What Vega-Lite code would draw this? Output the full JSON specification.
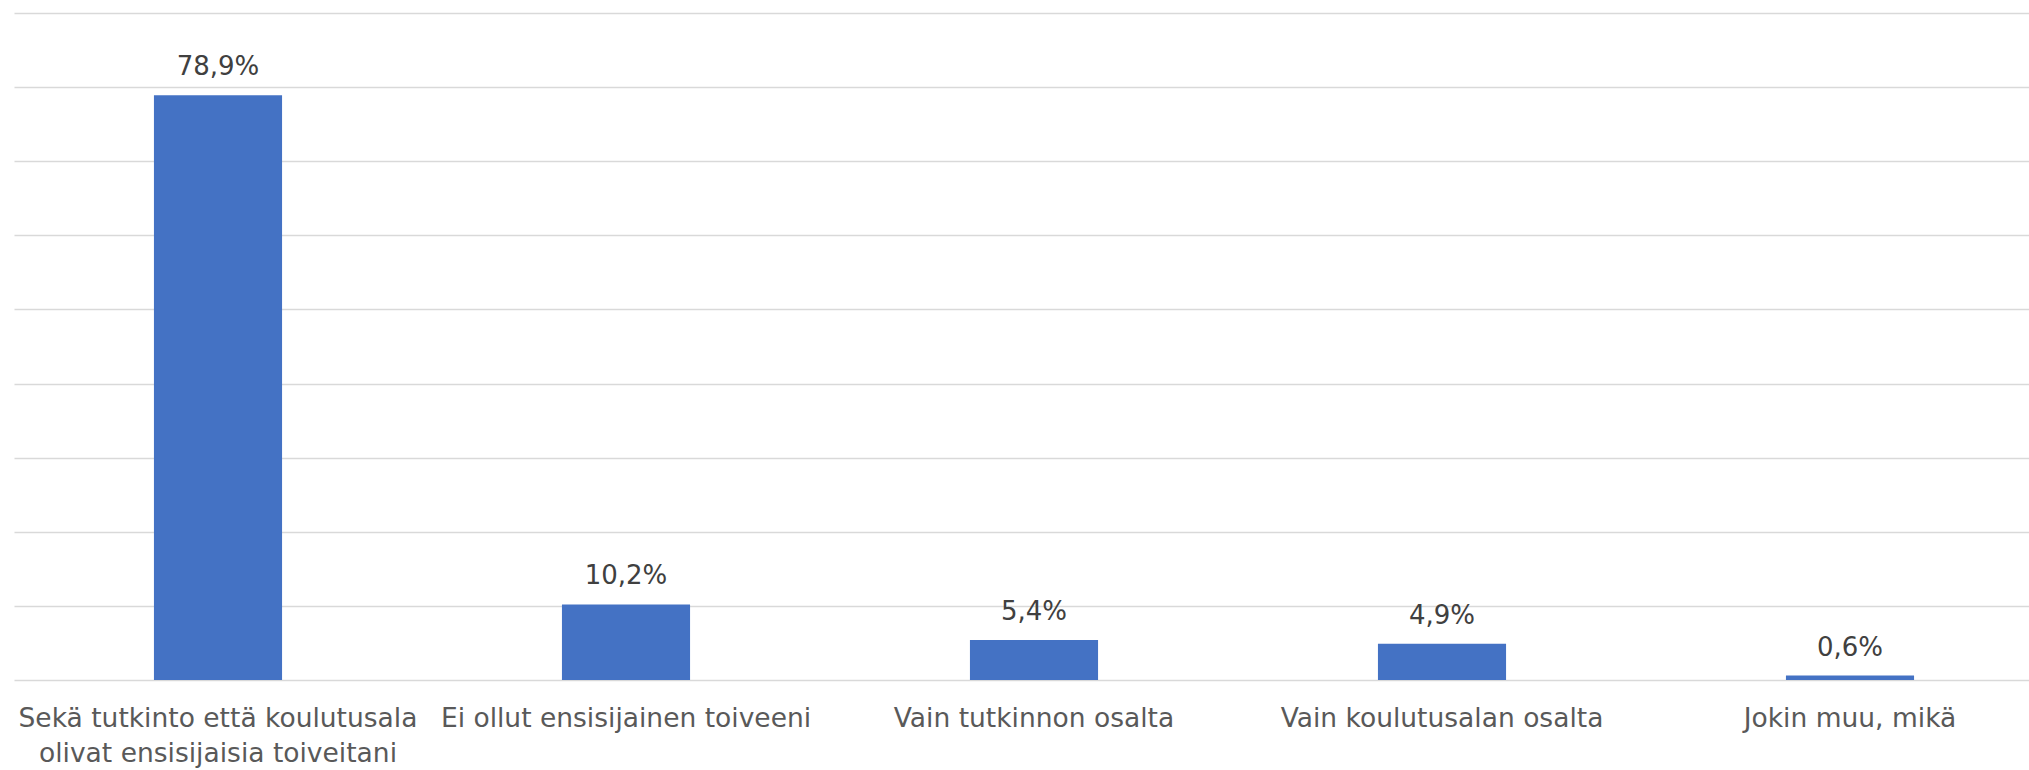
{
  "$schema": "https://vega.github.io/schema/vega-lite/v6.json",
  "width": 2040,
  "height": 667,
  "autosize": {"type": "none"},
  "padding": {"left": 14, "top": 13, "right": 0, "bottom": 90},
  "background": "white",
  "config": {
    "view": {"stroke": null},
    "locale": {"number": {"decimal": ",", "thousands": " ", "grouping": [3], "currency": ["", " €"]}},
    "font": "DejaVu Sans"
  },
  "data": {
    "values": [
      {"vastaus": "Sekä tutkinto että koulutusala olivat ensisijaisia toiveitani", "osuus": 0.789},
      {"vastaus": "Ei ollut ensisijainen toiveeni", "osuus": 0.102},
      {"vastaus": "Vain tutkinnon osalta", "osuus": 0.054},
      {"vastaus": "Vain koulutusalan osalta", "osuus": 0.049},
      {"vastaus": "Jokin muu, mikä", "osuus": 0.006}
    ]
  },
  "encoding": {
    "x": {
      "field": "vastaus",
      "type": "nominal",
      "sort": null,
      "scale": {"paddingInner": 0.686, "paddingOuter": 0.343},
      "axis": {
        "title": null,
        "labelAngle": 0,
        "labelFontSize": 26.5,
        "labelColor": "#595959",
        "labelFont": "DejaVu Sans",
        "labelLineHeight": 35,
        "labelPadding": 25,
        "labelLimit": 600,
        "ticks": false,
        "domain": false,
        "labelExpr": "datum.label == 'Sekä tutkinto että koulutusala olivat ensisijaisia toiveitani' ? ['Sekä tutkinto että koulutusala', 'olivat ensisijaisia toiveitani'] : datum.label"
      }
    },
    "y": {
      "field": "osuus",
      "type": "quantitative",
      "scale": {"domain": [0, 0.9], "nice": false},
      "axis": {
        "title": null,
        "labels": false,
        "ticks": false,
        "domain": false,
        "values": [0, 0.1, 0.2, 0.3, 0.4, 0.5, 0.6, 0.7, 0.8, 0.9],
        "gridColor": "#d9d9d9",
        "gridWidth": 1.5
      }
    }
  },
  "layer": [
    {"mark": {"type": "bar", "color": "#4472C4"}},
    {
      "mark": {"type": "text", "baseline": "alphabetic", "dy": -20, "fontSize": 26, "color": "#404040", "font": "DejaVu Sans"},
      "encoding": {"text": {"field": "osuus", "type": "quantitative", "format": ".1%"}}
    }
  ]
}
